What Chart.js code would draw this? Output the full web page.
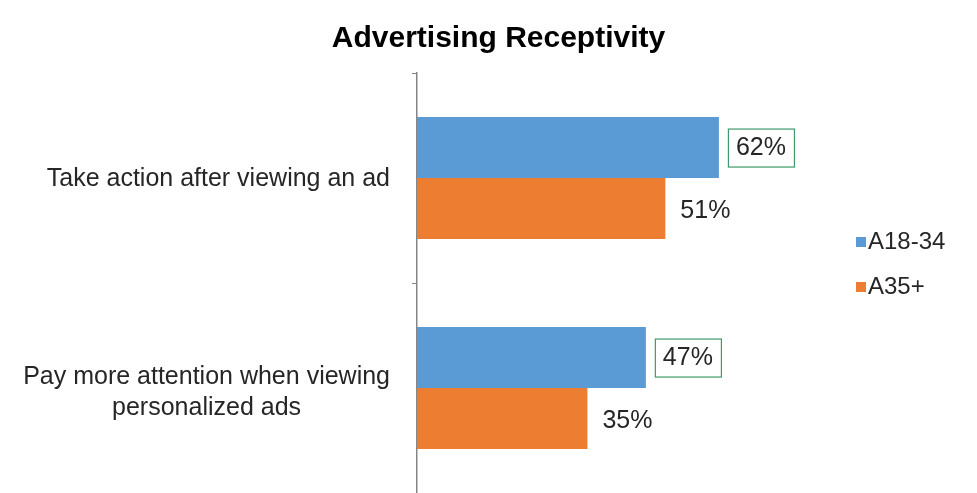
<!DOCTYPE html>
<html>
<head>
<meta charset="utf-8">
<script src="https://cdn.jsdelivr.net/npm/chart.js@4.4.1/dist/chart.umd.min.js"></script>
<style>
  body { margin: 0; background: #fff; }
  #wrap { width: 977px; height: 493px; }
</style>
</head>
<body>
<div id="wrap"><canvas id="myChart"></canvas></div>
<script>
var categories = [['Take action after viewing an ad'], ['Pay more attention when viewing', 'personalized ads']];
var seriesNames = ['A18-34', 'A35+'];
var youngValues = [62, 47];
var olderValues = [51, 35];
var seriesColors = ['#5B9BD5', '#ED7D31'];

var fontFamily = '"Liberation Sans", Arial, sans-serif';
var labelFont = '25px ' + fontFamily;
var textColor = '#262626';

// category labels: block right-aligned to the axis, lines centred in the block
var categoryLabels = {
    id: 'categoryLabels',
    afterDraw: function (chart) {
        var ctx = chart.ctx;
        var y = chart.scales.y;
        var right = chart.chartArea.left - 27;
        ctx.save();
        ctx.font = labelFont;
        ctx.fillStyle = textColor;
        ctx.textAlign = 'center';
        ctx.textBaseline = 'middle';
        categories.forEach(function (lines, i) {
            var w = 0;
            lines.forEach(function (l) { w = Math.max(w, ctx.measureText(l).width); });
            var cx = right - w / 2;
            var lh = 31;
            var cy = y.getPixelForValue(i) + 1 - (lines.length - 1) * (lh / 2 - 4);
            lines.forEach(function (l, k) { ctx.fillText(l, cx, cy + k * lh); });
        });
        ctx.restore();
    }
};

// value labels, the first series in a green box
var valueLabels = {
    id: 'valueLabels',
    afterDatasetsDraw: function (chart) {
        var ctx = chart.ctx;
        ctx.save();
        ctx.font = labelFont;
        ctx.textBaseline = 'middle';
        chart.data.datasets.forEach(function (ds, di) {
            chart.getDatasetMeta(di).data.forEach(function (bar, i) {
                var txt = ds.data[i] + '%';
                var w = ctx.measureText(txt).width;
                if (di === 0) {
                    var bx = bar.x + 9, bw = w + 16, bh = 38;
                    ctx.fillStyle = '#fff';
                    ctx.fillRect(bx, bar.y - bh / 2, bw, bh);
                    ctx.strokeStyle = '#3f9a6b';
                    ctx.lineWidth = 1.2;
                    ctx.strokeRect(bx + 0.5, bar.y - bh / 2 + 0.5, bw, bh);
                    ctx.fillStyle = textColor;
                    ctx.fillText(txt, bx + 8, bar.y + 1);
                } else {
                    ctx.fillStyle = textColor;
                    ctx.fillText(txt, bar.x + 15, bar.y + 3);
                }
            });
        });
        ctx.restore();
    }
};

// legend on the right
var sideLegend = {
    id: 'sideLegend',
    afterDraw: function (chart) {
        var ctx = chart.ctx;
        var x = 856;
        var ys = [241, 286];
        ctx.save();
        ctx.font = '24px ' + fontFamily;
        ctx.textBaseline = 'middle';
        chart.data.datasets.forEach(function (ds, i) {
            ctx.fillStyle = ds.backgroundColor;
            ctx.fillRect(x, ys[i] - 4, 10, 10);
            ctx.fillStyle = textColor;
            ctx.fillText(ds.label, x + 12, ys[i] + 1);
        });
        ctx.restore();
    }
};

var ctx = document.getElementById('myChart').getContext('2d');
var myChart = new Chart(ctx, {
    type: 'bar',
    data: {
        labels: categories,
        datasets: [{
            label: seriesNames[0],
            data: youngValues,
            backgroundColor: seriesColors[0]
        }, {
            label: seriesNames[1],
            data: olderValues,
            backgroundColor: seriesColors[1]
        }]
    },
    options: {
        indexAxis: 'y',
        responsive: true,
        maintainAspectRatio: false,
        animation: false,
        categoryPercentage: 0.58,
        barPercentage: 1.0,
        layout: {
            padding: { left: 20, right: 0, bottom: 0 }
        },
        plugins: {
            legend: { display: false },
            tooltip: { enabled: false },
            title: {
                display: true,
                text: 'Advertising Receptivity',
                color: '#000',
                font: { family: fontFamily, size: 30, weight: 'bold' },
                padding: { top: 21, bottom: 16 }
            }
        },
        scales: {
            x: {
                display: false,
                min: 0,
                max: 115
            },
            y: {
                offset: true,
                ticks: { display: false },
                grid: {
                    drawOnChartArea: false,
                    tickLength: 5,
                    color: '#868686'
                },
                border: { color: '#868686', width: 1.5 },
                afterFit: function (scale) { scale.width = 397; }
            }
        }
    },
    plugins: [categoryLabels, valueLabels, sideLegend]
});
</script>
</body>
</html>
